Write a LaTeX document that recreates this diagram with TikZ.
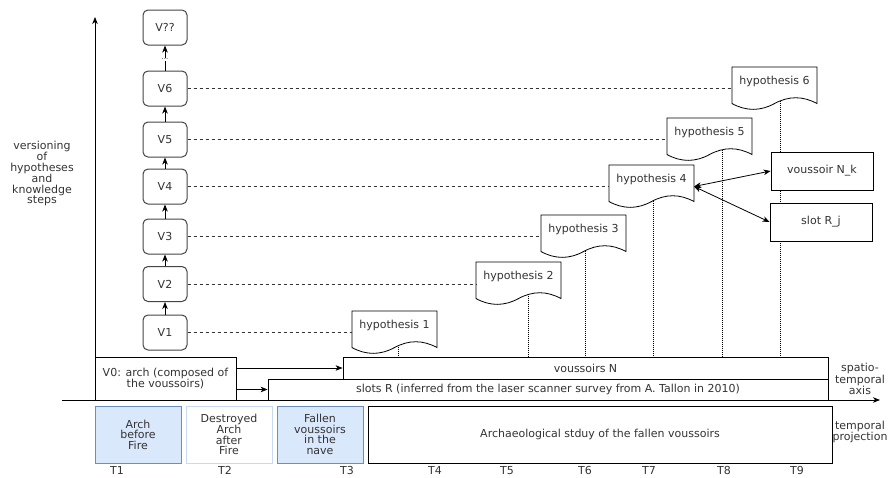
\documentclass[tikz,border=0pt]{standalone}
\usepackage{fontspec}
\setmainfont{DejaVu Sans}
\usetikzlibrary{arrows.meta,calc}
\definecolor{bluefill}{HTML}{DAE8FC}
\definecolor{bluedraw}{HTML}{6C8EBF}
\definecolor{paleblue}{HTML}{C8DAF2}
\definecolor{txt}{HTML}{333333}
\definecolor{vgray}{HTML}{444444}
\definecolor{lgray}{HTML}{333333}
\newcommand\dfont{\fontsize{11pt}{10.5pt}\selectfont}
\newcommand\docoutline[1]{%
  \begin{scope}[shift={(#1.north west)}]
    \draw[docline] (0,0) -- (85,0) -- (85,36.55)
      .. controls (70.83,28.81) and (56.67,28.81) .. (42.5,36.55)
      .. controls (28.33,44.29) and (14.17,44.29) .. (0,36.55) -- cycle;
  \end{scope}}
\tikzset{
  every node/.style={font=\dfont, text=txt},
  vbox/.style={draw=vgray, rounded corners=5pt, line width=1pt, minimum width=44pt,
    minimum height=35pt, inner sep=0pt, fill=white},
  hypframe/.style={minimum width=85pt, minimum height=43pt, inner sep=0pt, outer sep=0pt},
  docline/.style={draw=black, fill=white, line width=0.8pt},
  hyptext/.style={inner sep=1pt},
  plainbox/.style={draw=black, line width=0.8pt, fill=white, inner sep=1pt, align=center},
  bluebox/.style={draw=bluedraw, fill=bluefill, line width=0.8pt, minimum width=86pt,
    minimum height=57pt, align=center, inner sep=1pt},
  paleboxst/.style={draw=paleblue, fill=white, line width=0.8pt, minimum width=86pt,
    minimum height=57pt, align=center, inner sep=1pt},
  dashline/.style={draw=lgray, line width=0.7pt, dash pattern=on 3pt off 3pt},
  dotline/.style={draw=black, line width=0.8pt, dash pattern=on 1pt off 1pt},
  arr/.style={draw=black, line width=0.8pt, -{Stealth[length=7pt,width=5.5pt,inset=2pt]}},
  dblarr/.style={draw=black, line width=0.8pt,
    {Stealth[length=7pt,width=5.5pt,inset=2pt]}-{Stealth[length=7pt,width=5.5pt,inset=2pt]}},
  lbl/.style={align=center, inner sep=0pt},
  tlbl/.style={inner sep=0pt},
}
\begin{document}
\begin{tikzpicture}[x=1pt,y=-1pt]
\useasboundingbox (0,0) rectangle (895,477);

% lower bands
\node[plainbox, minimum width=141pt, minimum height=43pt] (v0) at (165.5,378.5)
  {V0: arch (composed of\\the voussoirs)};
\node[plainbox, minimum width=485pt, minimum height=22pt] (vN) at (585.5,368) {voussoirs N};
\node[plainbox, minimum width=560pt, minimum height=21pt] (sR) at (548,389.5)
  {slots R (inferred from the laser scanner survey from A. Tallon in 2010)};
\draw[arr] (v0.east |- vN.west) -- (vN.west);
\draw[arr] (v0.east |- sR.west) -- (sR.west);

% temporal projection boxes
\node[bluebox] (arch) at (138,434.5) {Arch\\before\\Fire};
\node[paleboxst] (destr) at (229,434.5) {Destroyed\\Arch\\after\\Fire};
\node[bluebox] (fallen) at (320,434.5) {Fallen\\voussoirs\\in the\\nave};
\node[plainbox, minimum width=464pt, minimum height=57pt] (archaeo) at (600,434.5)
  {Archaeological stduy of the fallen voussoirs};

% axes
\coordinate (yb) at (95,400);
\coordinate (yt) at (95,17);
\coordinate (xs) at (62,400);
\coordinate (xe) at (880,400);
\draw[arr] (yb) -- (yt);
\draw[arr] (xs) -- (xe);

% versions
\node[vbox] (vq) at (165,27.5) {V??};
\node[vbox] (v6) at (165,88.5) {V6};
\node[vbox] (v5) at (165,139.5) {V5};
\node[vbox] (v4) at (165,186.5) {V4};
\node[vbox] (v3) at (165,236.5) {V3};
\node[vbox] (v2) at (165,284) {V2};
\node[vbox] (v1) at (165,332.5) {V1};
\draw[arr] (v1) -- (v2);
\draw[arr] (v2) -- (v3);
\draw[arr] (v3) -- (v4);
\draw[arr] (v4) -- (v5);
\draw[arr] (v5) -- (v6);
\draw[arr] (v6) -- node[pos=0.45, fill=white, inner sep=1pt, font=\fontsize{7}{7}\selectfont] (dots) {...} (vq);

% hypotheses
\node[hypframe] (h1) at (394.5,332.5) {};
\node[hypframe] (h2) at (518.5,283.5) {};
\node[hypframe] (h3) at (583.5,236.5) {};
\node[hypframe] (h4) at (651.5,186.5) {};
\node[hypframe] (h5) at (709.5,139.5) {};
\node[hypframe] (h6) at (774.5,88.5) {};
\coordinate (d1) at ([xshift=3.5pt]h1.center);
\coordinate (d2) at ([xshift=9.5pt]h2.center);
\coordinate (d3) at ([xshift=1.5pt]h3.center);
\coordinate (d4) at ([xshift=1.5pt]h4.center);
\coordinate (d5) at ([xshift=12.5pt]h5.center);
\coordinate (d6) at ([xshift=5.5pt]h6.center);
\draw[dotline] (d1) -- (d1 |- vN.north);
\draw[dotline] (d2) -- (d2 |- vN.north);
\draw[dotline] (d3) -- (d3 |- vN.north);
\draw[dotline] (d4) -- (d4 |- vN.north);
\draw[dotline] (d5) -- (d5 |- vN.north);
\draw[dotline] (d6) -- (d6 |- vN.north);
\docoutline{h1}
\docoutline{h2}
\docoutline{h3}
\docoutline{h4}
\docoutline{h5}
\docoutline{h6}
\node[hyptext] (t1) at ([yshift=-14pt]h1.north) {hypothesis 1};
\node[hyptext] (t2) at ([yshift=-14pt]h2.north) {hypothesis 2};
\node[hyptext] (t3) at ([yshift=-14pt]h3.north) {hypothesis 3};
\node[hyptext] (t4) at ([yshift=-14pt]h4.north) {hypothesis 4};
\node[hyptext] (t5) at ([yshift=-14pt]h5.north) {hypothesis 5};
\node[hyptext] (t6) at ([yshift=-14pt]h6.north) {hypothesis 6};
\draw[dashline] (v1.east) -- (v1.east -| h1.west);
\draw[dashline] (v2.east) -- (v2.east -| h2.west);
\draw[dashline] (v3.east) -- (v3.east -| h3.west);
\draw[dashline] (v4.east) -- (v4.east -| h4.west);
\draw[dashline] (v5.east) -- (v5.east -| h5.west);
\draw[dashline] (v6.east) -- (v6.east -| h6.west);

% voussoir and slot
\node[plainbox, minimum width=102pt, minimum height=38pt] (nk) at (822,171) {voussoir N\_k};
\node[plainbox, minimum width=102pt, minimum height=38pt] (rj) at (821,222) {slot R\_j};
\draw[dblarr] (h4.east) -- (nk.west);
\draw[dblarr] (h4.east) -- (rj.west);

% labels
\node[lbl] (ylab) at (42,173.5) {versioning\\of\\hypotheses\\and\\knowledge\\steps};
\node[lbl] (stlab) at (860,379) {spatio-\\temporal\\axis};
\node[lbl] (tplab) at (860,432) {temporal\\projection};
\node[tlbl] (T1) at (117,470.5) {T1};
\node[tlbl] (T2) at (225,470.5) {T2};
\node[tlbl] (T3) at (347,470.5) {T3};
\node[tlbl] (T4) at (435,470.5) {T4};
\node[tlbl] (T5) at (507,470.5) {T5};
\node[tlbl] (T6) at (585,470.5) {T6};
\node[tlbl] (T7) at (649,470.5) {T7};
\node[tlbl] (T8) at (724,470.5) {T8};
\node[tlbl] (T9) at (797,470.5) {T9};
\end{tikzpicture}
\end{document}
